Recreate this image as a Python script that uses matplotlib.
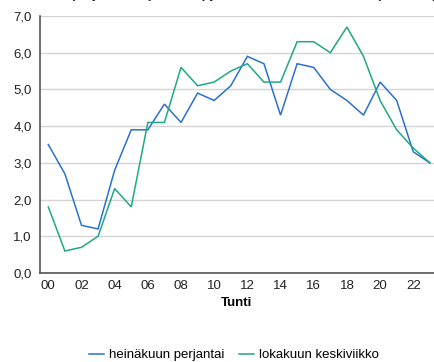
import matplotlib
matplotlib.use("Agg")
import matplotlib.pyplot as plt

plt.rcParams['font.family'] = ['Liberation Sans', 'DejaVu Sans']

hours = list(range(24))
hour_labels = [f"{h:02d}" for h in range(0, 24, 2)]

heinakuu_perjantai = [3.5, 2.7, 1.3, 1.2, 2.8, 3.9, 3.9, 4.6, 4.1, 4.9, 4.7, 5.1,
                      5.9, 5.7, 4.3, 5.7, 5.6, 5.0, 4.7, 4.3, 5.2, 4.7, 3.3, 3.0]
lokakuu_keskiviikko = [1.8, 0.6, 0.7, 1.0, 2.3, 1.8, 4.1, 4.1, 5.6, 5.1, 5.2, 5.5,
                       5.7, 5.2, 5.2, 6.3, 6.3, 6.0, 6.7, 5.9, 4.7, 3.9, 3.4, 3.0]
series_names = ["heinäkuun perjantai", "lokakuun keskiviikko"]
series_colors = ["#2a70d2", "#1fa883"]
y_ticks = [0, 1, 2, 3, 4, 5, 6, 7]
title_text = "heinäkuun perjantaina (snt/kWh) ja lokakuun keskiviikkona (snt/kWh)"

FS = 9.5
W, H = 434, 362
fig = plt.figure(figsize=(W / 100, H / 100), dpi=100)
ax = fig.add_axes([40 / W, 1 - 273 / H, (W - 40) / W, (273 - 16) / H])

for vals, name, col in zip([heinakuu_perjantai, lokakuu_keskiviikko], series_names, series_colors):
    ax.plot(hours, vals, color=col, lw=1.1, label=name, solid_joinstyle='miter')

ax.set_xlim(-0.5, 23.25)
ax.set_ylim(0, 7)
ax.set_yticks(y_ticks)
ax.set_yticklabels([f"{v:.1f}".replace('.', ',') for v in y_ticks], fontsize=FS, color='#222222')
ax.set_xticks(range(0, 24, 2))
ax.set_xticklabels(hour_labels, fontsize=FS, color='#222222')
ax.tick_params(length=0, pad=6)
ax.tick_params(axis='x', pad=5)
ax.grid(axis='y', color='#d4d4d4', lw=1.0)
ax.set_axisbelow(True)
for s in ['top', 'right']:
    ax.spines[s].set_visible(False)
for s in ['left', 'bottom']:
    ax.spines[s].set_color('#555555')
    ax.spines[s].set_linewidth(1.2)

ax.set_xlabel("Tunti", fontsize=FS, fontweight='bold', labelpad=4)

# chart heading sits above the canvas; only its lowest strokes fall inside
fig.text(2 / W, 1 + 2 / H, title_text,
         fontsize=FS, fontweight='bold', va='baseline', ha='left', color='#222222')

fig.legend(loc='center', bbox_to_anchor=(0.539, 1 - 355 / H), ncol=2, frameon=False,
           fontsize=FS, handlelength=1.15, handletextpad=0.4, columnspacing=1.1)

fig.savefig("out.png", dpi=100)
